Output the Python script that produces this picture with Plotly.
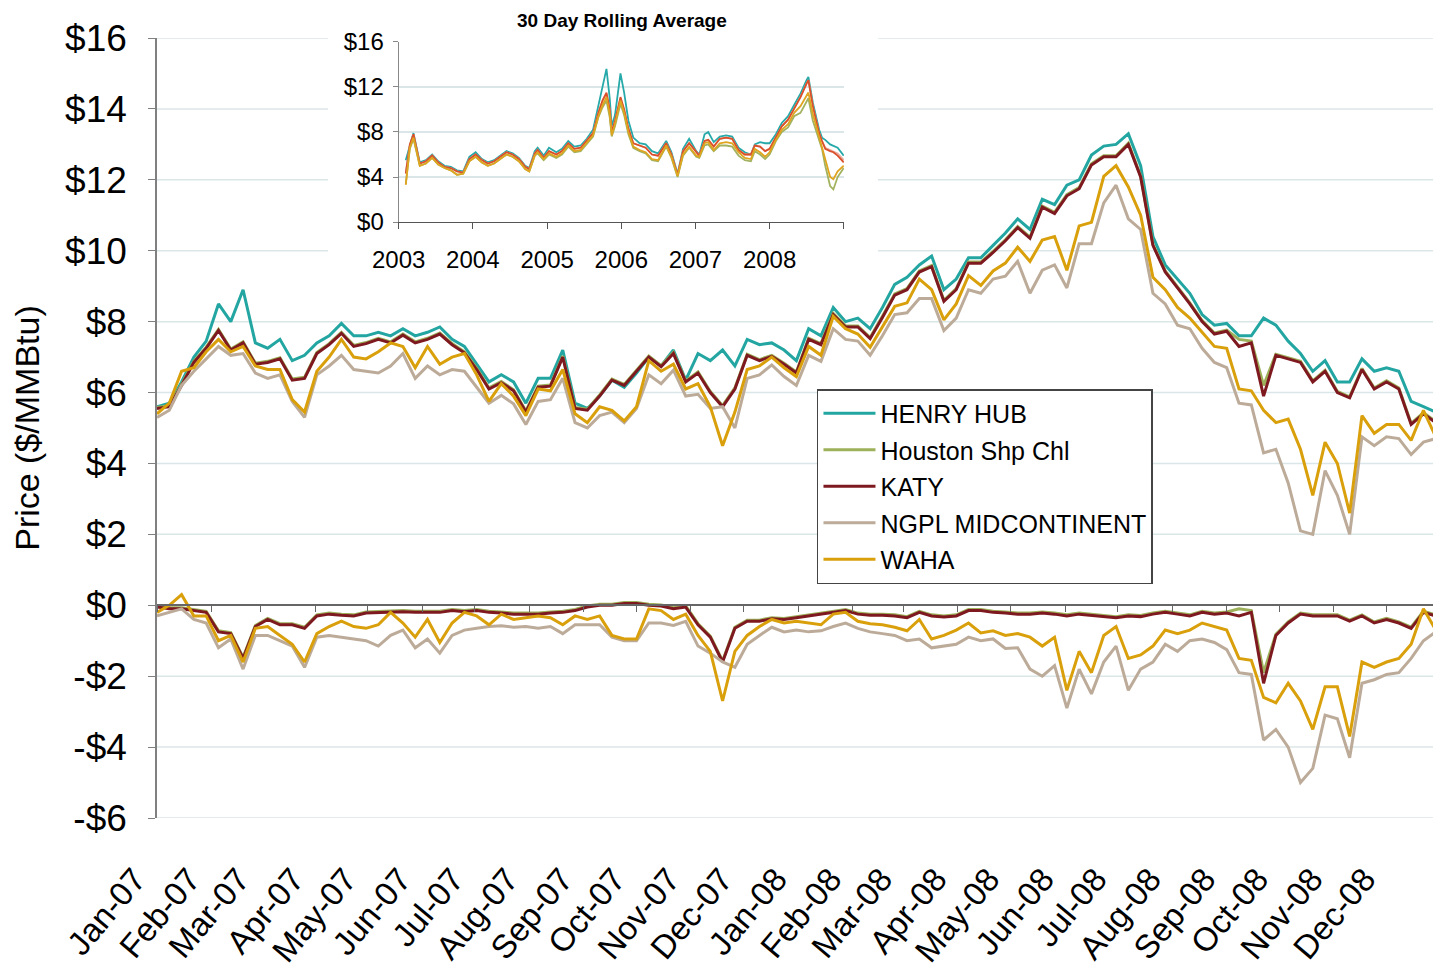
import plotly.graph_objects as go
import pandas as pd

# ---------------- main chart data (weekly readings, Jan 2007 - Dec 2008) ----------------
WEEKS = pd.date_range("2007-01-01", periods=105, freq="7D")

HENRY = [5.6, 5.7, 6.3, 7.0, 7.45, 8.5, 8.0, 8.9, 7.4, 7.25,
         7.5, 6.9, 7.05, 7.4, 7.6, 7.95, 7.6, 7.6, 7.7, 7.6,
         7.8, 7.6, 7.7, 7.85, 7.5, 7.3, 6.8, 6.3, 6.5, 6.3,
         5.7, 6.4, 6.4, 7.2, 5.7, 5.55, 5.9, 6.35, 6.15, 6.55,
         7.0, 6.75, 7.2, 6.35, 7.1, 6.9, 7.2, 6.75, 7.5, 7.35,
         7.4, 7.2, 6.9, 7.8, 7.6, 8.4, 8.0, 8.1, 7.8, 8.4,
         9.05, 9.25, 9.6, 9.85, 8.9, 9.2, 9.8, 9.8, 10.15, 10.5,
         10.9, 10.6, 11.45, 11.3, 11.85, 12.0, 12.7, 12.95, 13.0, 13.3,
         12.4, 10.4, 9.6, 9.2, 8.8, 8.2, 7.9, 7.95, 7.6, 7.6,
         8.1, 7.9, 7.45, 7.1, 6.6, 6.9, 6.3, 6.3, 6.95, 6.6,
         6.7, 6.6, 5.75, 5.6, 5.45]

HOUSTON = [5.58, 5.63, 6.23, 6.88, 7.28, 7.78, 7.23, 7.43, 6.83, 6.88,
           6.98, 6.38, 6.43, 7.13, 7.38, 7.7, 7.33, 7.41, 7.53, 7.43,
           7.65, 7.43, 7.53, 7.68, 7.38, 7.15, 6.68, 6.13, 6.31, 6.08,
           5.48, 6.18, 6.21, 7.03, 5.58, 5.53, 5.93, 6.38, 6.23, 6.63,
           7.03, 6.76, 7.13, 6.33, 6.58, 6.03, 5.63, 6.13, 7.08, 6.93,
           7.05, 6.83, 6.58, 7.53, 7.38, 8.23, 7.88, 7.88, 7.55, 8.15,
           8.78, 8.93, 9.43, 9.58, 8.6, 8.93, 9.68, 9.68, 9.98, 10.31,
           10.68, 10.38, 11.26, 11.08, 11.58, 11.78, 12.45, 12.68, 12.68, 13.03,
           12.11, 10.18, 9.43, 8.98, 8.53, 8.03, 7.68, 7.76, 7.5, 7.45,
           6.2, 7.08, 6.98, 6.88, 6.33, 6.63, 6.03, 5.88, 6.68, 6.13,
           6.33, 6.13, 5.13, 5.43, 5.18]

KATY = [5.55, 5.6, 6.2, 6.85, 7.25, 7.75, 7.2, 7.4, 6.8, 6.85,
        6.95, 6.35, 6.4, 7.1, 7.35, 7.67, 7.3, 7.38, 7.5, 7.4,
        7.62, 7.4, 7.5, 7.65, 7.35, 7.12, 6.65, 6.1, 6.28, 6.05,
        5.45, 6.15, 6.18, 7.0, 5.55, 5.5, 5.9, 6.35, 6.2, 6.6,
        7.0, 6.73, 7.1, 6.3, 6.55, 6.0, 5.6, 6.1, 7.05, 6.9,
        7.02, 6.8, 6.55, 7.5, 7.35, 8.2, 7.85, 7.85, 7.52, 8.12,
        8.75, 8.9, 9.4, 9.55, 8.57, 8.9, 9.65, 9.65, 9.95, 10.28,
        10.65, 10.35, 11.23, 11.05, 11.55, 11.75, 12.42, 12.65, 12.65, 13.0,
        12.08, 10.15, 9.4, 8.95, 8.5, 8.0, 7.65, 7.73, 7.3, 7.4,
        5.9, 7.05, 6.95, 6.85, 6.3, 6.6, 6.0, 5.85, 6.65, 6.1,
        6.3, 6.1, 5.1, 5.4, 5.15]

NGPL = [5.3, 5.5, 6.2, 6.6, 6.95, 7.3, 7.05, 7.1, 6.55, 6.4,
        6.5, 5.75, 5.3, 6.5, 6.75, 7.05, 6.65, 6.6, 6.55, 6.75,
        7.1, 6.4, 6.75, 6.5, 6.65, 6.6, 6.15, 5.7, 5.92, 5.68,
        5.1, 5.75, 5.8, 6.4, 5.15, 5.0, 5.35, 5.45, 5.15, 5.55,
        6.5, 6.25, 6.63, 5.9, 5.95, 5.55, 5.6, 5.0, 6.4, 6.5,
        6.78, 6.45, 6.2, 7.05, 6.88, 7.8, 7.5, 7.45, 7.05, 7.6,
        8.2, 8.25, 8.65, 8.65, 7.75, 8.1, 8.9, 8.8, 9.2, 9.28,
        9.7, 8.8, 9.45, 9.6, 8.95, 10.2, 10.2, 11.35, 11.85, 10.9,
        10.6, 8.8, 8.5, 7.9, 7.8, 7.25, 6.85, 6.7, 5.7, 5.65,
        4.3, 4.4, 3.45, 2.1, 2.0, 3.8, 3.1, 2.0, 4.75, 4.5,
        4.75, 4.7, 4.25, 4.6, 4.7]

WAHA = [5.4, 5.7, 6.6, 6.7, 7.15, 7.5, 7.15, 7.3, 6.75, 6.65,
        6.65, 5.8, 5.45, 6.6, 7.0, 7.5, 7.0, 6.95, 7.15, 7.4,
        7.3, 6.7, 7.3, 6.8, 7.0, 7.1, 6.5, 5.75, 6.25, 5.9,
        5.35, 6.1, 6.05, 6.65, 5.4, 5.15, 5.6, 5.5, 5.2, 5.6,
        6.9, 6.6, 6.8, 6.1, 6.25, 5.6, 4.5, 5.45, 6.65, 6.75,
        7.0, 6.7, 6.45, 7.3, 7.05, 8.15, 7.8, 7.65, 7.28, 7.85,
        8.43, 8.53, 9.2, 8.9, 8.05, 8.5, 9.3, 9.02, 9.43, 9.65,
        10.1, 9.7, 10.3, 10.4, 9.45, 10.7, 10.8, 12.1, 12.4, 11.8,
        11.0, 9.25, 8.9, 8.4, 8.1, 7.7, 7.3, 7.25, 6.1, 6.05,
        5.5, 5.15, 5.25, 4.4, 3.1, 4.6, 4.0, 2.6, 5.35, 4.85,
        5.1, 5.1, 4.65, 5.5, 4.75]

# basis vs. Henry Hub (lower half of the chart)
HOUSTON_BASIS = [-0.02, -0.07, -0.07, -0.12, -0.17, -0.72, -0.77, -1.47, -0.57, -0.37,
                 -0.52, -0.52, -0.62, -0.27, -0.22, -0.25, -0.27, -0.19, -0.17, -0.17,
                 -0.15, -0.17, -0.17, -0.17, -0.12, -0.15, -0.12, -0.17, -0.19, -0.22,
                 -0.22, -0.22, -0.19, -0.17, -0.12, -0.02, 0.03, 0.03, 0.08, 0.08,
                 0.03, 0.01, -0.07, -0.02, -0.52, -0.87, -1.57, -0.62, -0.42, -0.42,
                 -0.35, -0.37, -0.32, -0.27, -0.22, -0.17, -0.12, -0.22, -0.25, -0.25,
                 -0.27, -0.32, -0.17, -0.27, -0.3, -0.27, -0.12, -0.12, -0.17, -0.19,
                 -0.22, -0.22, -0.19, -0.22, -0.27, -0.22, -0.25, -0.27, -0.32, -0.27,
                 -0.29, -0.22, -0.17, -0.22, -0.27, -0.17, -0.22, -0.19, -0.1, -0.15,
                 -1.9, -0.82, -0.47, -0.22, -0.27, -0.27, -0.27, -0.42, -0.27, -0.47,
                 -0.37, -0.47, -0.62, -0.17, -0.27]

KATY_BASIS = [-0.05, -0.1, -0.1, -0.15, -0.2, -0.75, -0.8, -1.5, -0.6, -0.4,
              -0.55, -0.55, -0.65, -0.3, -0.25, -0.28, -0.3, -0.22, -0.2, -0.2,
              -0.18, -0.2, -0.2, -0.2, -0.15, -0.18, -0.15, -0.2, -0.22, -0.25,
              -0.25, -0.25, -0.22, -0.2, -0.15, -0.05, 0.0, 0.0, 0.05, 0.05,
              0.0, -0.02, -0.1, -0.05, -0.55, -0.9, -1.6, -0.65, -0.45, -0.45,
              -0.38, -0.4, -0.35, -0.3, -0.25, -0.2, -0.15, -0.25, -0.28, -0.28,
              -0.3, -0.35, -0.2, -0.3, -0.33, -0.3, -0.15, -0.15, -0.2, -0.22,
              -0.25, -0.25, -0.22, -0.25, -0.3, -0.25, -0.28, -0.3, -0.35, -0.3,
              -0.32, -0.25, -0.2, -0.25, -0.3, -0.2, -0.25, -0.22, -0.3, -0.2,
              -2.2, -0.85, -0.5, -0.25, -0.3, -0.3, -0.3, -0.45, -0.3, -0.5,
              -0.4, -0.5, -0.65, -0.2, -0.3]

NGPL_BASIS = [-0.3, -0.2, -0.1, -0.4, -0.5, -1.2, -0.95, -1.8, -0.85, -0.85,
              -1.0, -1.15, -1.75, -0.9, -0.85, -0.9, -0.95, -1.0, -1.15, -0.85,
              -0.7, -1.2, -0.95, -1.35, -0.85, -0.7, -0.65, -0.6, -0.58, -0.62,
              -0.6, -0.65, -0.6, -0.8, -0.55, -0.55, -0.55, -0.9, -1.0, -1.0,
              -0.5, -0.5, -0.57, -0.45, -1.15, -1.35, -1.6, -1.75, -1.1, -0.85,
              -0.62, -0.75, -0.7, -0.75, -0.72, -0.6, -0.5, -0.65, -0.75, -0.8,
              -0.85, -1.0, -0.95, -1.2, -1.15, -1.1, -0.9, -1.0, -0.95, -1.22,
              -1.2, -1.8, -2.0, -1.7, -2.9, -1.8, -2.5, -1.6, -1.15, -2.4,
              -1.8, -1.6, -1.1, -1.3, -1.0, -0.95, -1.05, -1.25, -1.9, -1.95,
              -3.8, -3.5, -4.0, -5.0, -4.6, -3.1, -3.2, -4.3, -2.2, -2.1,
              -1.95, -1.9, -1.5, -1.0, -0.75]

WAHA_BASIS = [-0.2, 0.0, 0.3, -0.3, -0.3, -1.0, -0.85, -1.6, -0.65, -0.6,
              -0.85, -1.1, -1.6, -0.8, -0.6, -0.45, -0.6, -0.65, -0.55, -0.2,
              -0.5, -0.9, -0.4, -1.05, -0.5, -0.2, -0.3, -0.55, -0.25, -0.4,
              -0.35, -0.3, -0.35, -0.55, -0.3, -0.4, -0.3, -0.85, -0.95, -0.95,
              -0.1, -0.15, -0.4, -0.25, -0.85, -1.3, -2.7, -1.3, -0.85, -0.6,
              -0.4, -0.5, -0.45, -0.5, -0.55, -0.25, -0.2, -0.45, -0.52, -0.55,
              -0.62, -0.72, -0.4, -0.95, -0.85, -0.7, -0.5, -0.78, -0.72, -0.85,
              -0.8, -0.9, -1.15, -0.9, -2.4, -1.3, -1.9, -0.85, -0.6, -1.5,
              -1.4, -1.15, -0.7, -0.8, -0.7, -0.5, -0.6, -0.7, -1.5, -1.55,
              -2.6, -2.75, -2.2, -2.7, -3.5, -2.3, -2.3, -3.7, -1.6, -1.75,
              -1.6, -1.5, -1.1, -0.1, -0.7]

MONTH_STARTS = ["2007-01-01", "2007-02-01", "2007-03-01", "2007-04-01", "2007-05-01", "2007-06-01",
                "2007-07-01", "2007-08-01", "2007-09-01", "2007-10-01", "2007-11-01", "2007-12-01",
                "2008-01-01", "2008-02-01", "2008-03-01", "2008-04-01", "2008-05-01", "2008-06-01",
                "2008-07-01", "2008-08-01", "2008-09-01", "2008-10-01", "2008-11-01", "2008-12-01"]
MONTH_LABELS = ["Jan-07", "Feb-07", "Mar-07", "Apr-07", "May-07", "Jun-07",
                "Jul-07", "Aug-07", "Sep-07", "Oct-07", "Nov-07", "Dec-07",
                "Jan-08", "Feb-08", "Mar-08", "Apr-08", "May-08", "Jun-08",
                "Jul-08", "Aug-08", "Sep-08", "Oct-08", "Nov-08", "Dec-08"]
Y_TICKS = [-6, -4, -2, 0, 2, 4, 6, 8, 10, 12, 14, 16]
Y_LABELS = ["-$6", "-$4", "-$2", "$0", "$2", "$4", "$6", "$8", "$10", "$12", "$14", "$16"]

# ---------------- inset data (30 day rolling average, 2003-2008) ----------------
INSET_DATES = ["2003-02-05", "2003-02-25", "2003-03-15", "2003-04-15", "2003-05-15", "2003-06-15",
               "2003-07-15", "2003-08-15", "2003-09-15", "2003-10-15", "2003-11-15", "2003-12-15",
               "2004-01-15", "2004-02-15", "2004-03-15", "2004-04-15", "2004-05-15", "2004-06-15",
               "2004-07-15", "2004-08-15", "2004-09-15", "2004-10-05", "2004-11-01", "2004-11-15",
               "2004-12-15",
               "2005-01-10", "2005-02-15", "2005-03-15", "2005-04-15", "2005-05-15", "2005-06-15",
               "2005-07-15", "2005-08-15", "2005-09-10", "2005-10-01", "2005-10-20", "2005-11-05",
               "2005-11-15", "2005-12-01", "2005-12-28",
               "2006-01-15", "2006-02-05", "2006-03-01", "2006-04-01", "2006-05-01", "2006-06-01",
               "2006-07-01", "2006-08-10", "2006-09-05", "2006-10-05", "2006-11-01", "2006-12-01",
               "2007-01-05", "2007-01-20", "2007-02-15", "2007-03-05", "2007-04-01", "2007-05-01",
               "2007-06-01", "2007-07-01", "2007-08-01", "2007-09-01", "2007-10-01", "2007-10-20",
               "2007-11-15", "2007-12-10",
               "2008-01-01", "2008-02-01", "2008-03-01", "2008-04-01", "2008-05-01", "2008-06-01",
               "2008-07-01", "2008-07-10", "2008-08-01", "2008-09-01", "2008-09-15", "2008-10-01",
               "2008-10-25", "2008-11-10", "2008-12-01", "2008-12-31"]

INSET_HENRY = [5.5, 6.9, 7.9, 5.3, 5.5, 6.0, 5.4, 5.0, 4.9, 4.6, 4.5, 5.8,
               6.2, 5.6, 5.3, 5.5, 5.9, 6.3, 6.1, 5.7, 5.0, 4.8, 6.3, 6.6, 5.9,
               6.6, 6.2, 6.5, 7.2, 6.7, 6.8, 7.4, 8.2, 10.3, 12.3, 13.6, 11.0, 8.5, 9.5, 13.2,
               11.5, 9.0, 7.5, 7.0, 6.9, 6.3, 6.1, 7.2, 6.2, 4.3, 6.5, 7.4,
               6.3, 6.0, 7.8, 8.0, 7.1, 7.6, 7.7, 7.6, 6.6, 6.2, 6.0, 6.9, 7.1, 7.0,
               7.0, 7.8, 8.8, 9.4, 10.4, 11.4, 12.6, 12.9, 10.6, 8.2, 7.5, 7.3, 6.9, 6.8, 6.6, 5.9]
INSET_HOUSTON = [4.4, 6.8, 7.8, 5.2, 5.4, 5.9, 5.3, 4.9, 4.8, 4.5, 4.4, 5.6,
                 6.0, 5.5, 5.2, 5.4, 5.8, 6.2, 6.0, 5.6, 4.9, 4.7, 6.1, 6.4, 5.7,
                 6.3, 6.0, 6.3, 7.0, 6.5, 6.6, 7.2, 7.9, 9.7, 10.8, 11.4, 10.0, 8.0, 9.0, 11.0,
                 10.0, 8.3, 7.0, 6.8, 6.6, 6.0, 5.9, 7.0, 6.0, 4.2, 6.3, 7.0,
                 6.2, 5.9, 7.2, 7.3, 6.7, 7.4, 7.5, 7.4, 6.4, 6.0, 6.0, 6.8, 6.7, 6.3,
                 6.5, 7.5, 8.5, 9.1, 10.1, 11.1, 12.3, 12.6, 10.3, 7.9, 7.2, 6.6, 6.4, 6.3, 6.1, 5.5]
INSET_KATY = [4.3, 6.9, 7.8, 5.2, 5.4, 5.9, 5.3, 4.9, 4.8, 4.5, 4.4, 5.6,
              6.0, 5.5, 5.2, 5.4, 5.8, 6.2, 6.0, 5.6, 4.9, 4.7, 6.1, 6.4, 5.7,
              6.3, 6.0, 6.3, 7.0, 6.5, 6.6, 7.2, 7.9, 9.7, 10.8, 11.5, 10.0, 8.0, 9.0, 11.1,
              10.0, 8.3, 7.0, 6.8, 6.6, 6.0, 5.9, 7.0, 6.0, 4.2, 6.3, 7.0,
              6.2, 5.9, 7.2, 7.3, 6.7, 7.4, 7.5, 7.4, 6.4, 6.0, 6.0, 6.8, 6.7, 6.3,
              6.5, 7.5, 8.5, 9.1, 10.1, 11.1, 12.3, 12.6, 10.3, 7.9, 7.2, 6.5, 6.3, 6.2, 5.9, 5.3]
INSET_NGPL = [3.4, 6.5, 7.4, 5.0, 5.2, 5.7, 5.1, 4.8, 4.6, 4.2, 4.3, 5.4,
              5.8, 5.3, 5.0, 5.2, 5.6, 6.0, 5.8, 5.4, 4.7, 4.5, 5.9, 6.1, 5.5,
              6.0, 5.7, 6.0, 6.7, 6.2, 6.3, 6.9, 7.6, 9.3, 10.2, 10.8, 9.3, 7.6, 8.5, 10.5,
              9.5, 7.8, 6.6, 6.3, 6.1, 5.5, 5.4, 6.7, 5.7, 4.0, 5.9, 6.6,
              5.8, 5.7, 6.8, 6.9, 6.3, 6.8, 6.8, 6.7, 5.9, 5.5, 5.4, 6.3, 6.0, 5.6,
              6.0, 7.2, 8.0, 8.4, 9.4, 9.7, 10.6, 11.0, 9.0, 7.2, 6.5, 5.0, 3.2, 2.9, 4.0, 4.8]
INSET_WAHA = [3.3, 6.6, 7.5, 5.0, 5.2, 5.7, 5.1, 4.8, 4.6, 4.2, 4.3, 5.4,
              5.8, 5.3, 5.0, 5.2, 5.6, 6.0, 5.8, 5.4, 4.7, 4.5, 5.9, 6.2, 5.6,
              6.1, 5.8, 6.1, 6.8, 6.3, 6.4, 7.0, 7.7, 9.4, 10.4, 11.1, 9.6, 7.7, 8.7, 10.8,
              9.7, 8.0, 6.7, 6.4, 6.2, 5.6, 5.5, 6.8, 5.8, 4.1, 6.0, 6.7,
              5.9, 5.8, 7.0, 7.1, 6.4, 7.0, 7.1, 7.0, 6.2, 5.7, 5.6, 6.5, 6.2, 5.8,
              6.2, 7.3, 8.2, 8.7, 9.7, 10.3, 11.2, 11.5, 9.6, 7.5, 6.8, 5.6, 4.0, 3.8, 4.5, 5.0]
INSET_YEAR_TICKS = ["2003-01-01", "2004-01-01", "2005-01-01", "2006-01-01",
                    "2007-01-01", "2008-01-01", "2009-01-01"]
INSET_YEAR_LABELS = ["2003", "2004", "2005", "2006", "2007", "2008", ""]
INSET_Y_TICKS = [0, 4, 8, 12, 16]
INSET_Y_LABELS = ["$0", "$4", "$8", "$12", "$16"]

SERIES_NAMES = ["HENRY HUB", "Houston Shp Chl", "KATY", "NGPL MIDCONTINENT", "WAHA"]
COLORS = ["#23A6A2", "#9DB05A", "#7E1920", "#BDAB99", "#D9A00C"]
INSET_COLORS = ["#26A9A8", "#E8ABA0", "#D9502A", "#A2B25E", "#DFA51F"]

FONT = "Liberation Sans, Arial, sans-serif"

fig = go.Figure()

prices = [HENRY, HOUSTON, KATY, NGPL, WAHA]
for name, vals, col in zip(SERIES_NAMES, prices, COLORS):
    fig.add_trace(go.Scatter(x=WEEKS, y=vals, name=name, mode="lines", legendgroup=name,
                             line=dict(color=col, width=3), xaxis="x", yaxis="y"))

basis = [HOUSTON_BASIS, KATY_BASIS, NGPL_BASIS, WAHA_BASIS]
for name, vals, col in zip(SERIES_NAMES[1:], basis, COLORS[1:]):
    fig.add_trace(go.Scatter(x=WEEKS, y=vals, name=name, mode="lines", legendgroup=name,
                             showlegend=False, line=dict(color=col, width=3),
                             xaxis="x", yaxis="y"))

# helper (invisible) trace so the zero-crossing category axis is drawn
fig.add_trace(go.Scatter(x=[WEEKS[0]], y=[0], mode="markers", marker=dict(opacity=0),
                         showlegend=False, hoverinfo="skip", xaxis="x3", yaxis="y"))

inset = [INSET_HENRY, INSET_HOUSTON, INSET_KATY, INSET_NGPL, INSET_WAHA]
for name, vals, col in zip(SERIES_NAMES, inset, INSET_COLORS):
    fig.add_trace(go.Scatter(x=INSET_DATES, y=vals, name=name, mode="lines",
                             showlegend=False, line=dict(color=col, width=1.8),
                             xaxis="x2", yaxis="y2"))

# main gridlines (interrupted where the inset box sits)
GRID = "#dbe6e8"
shapes = []
for v in Y_TICKS:
    if v == 0:
        continue
    if v >= 10:
        segs = [(0, 0.1332), (0.5615, 1)]
    else:
        segs = [(0, 1)]
    for a, b in segs:
        shapes.append(dict(type="line", xref="paper", yref="y", x0=a, x1=b, y0=v, y1=v,
                           line=dict(color=GRID, width=1.5), layer="below"))

# the page body adds an 8px offset; size/margins compensate for it
fig.update_layout(
    width=1433, height=965,
    margin=dict(l=149, r=0, t=30, b=155),
    paper_bgcolor="white", plot_bgcolor="white",
    font=dict(family=FONT, color="black"),
    shapes=shapes,
    showlegend=True,
    legend=dict(x=0.514, y=0.55, xanchor="left", yanchor="top",
                bgcolor="white", bordercolor="#444444", borderwidth=1.5,
                font=dict(size=25, family=FONT), tracegroupgap=1, itemwidth=52),
    xaxis=dict(type="date", range=["2007-01-01", "2009-01-01"], domain=[0, 1], anchor="y",
               tickmode="array", tickvals=MONTH_STARTS, ticktext=MONTH_LABELS,
               tickangle=-50, tickfont=dict(size=33), showgrid=False, showline=False,
               zeroline=False, ticks="", ticklabelstandoff=34, ticklabelshift=-22),
    xaxis3=dict(type="date", range=["2007-01-01", "2009-01-01"], overlaying="x",
                anchor="free", position=6 / 22, tickmode="array", tickvals=MONTH_STARTS,
                showticklabels=False, ticks="outside", ticklen=6, tickcolor="#666666",
                tickwidth=1.2, showline=True, linecolor="#666666", linewidth=1.5,
                showgrid=False, zeroline=False),
    yaxis=dict(range=[-6, 16], domain=[0, 1], anchor="x", tickmode="array",
               tickvals=Y_TICKS, ticktext=Y_LABELS, tickfont=dict(size=37),
               ticks="outside", ticklen=7, tickcolor="#808080", showline=True,
               linecolor="#808080", linewidth=1.5, showgrid=False, zeroline=False,
               ticklabelstandoff=14,
               title=dict(text="Price ($/MMBtu)", font=dict(size=34), standoff=16)),
    xaxis2=dict(type="date", range=["2003-01-01", "2009-01-01"], domain=[0.1882, 0.535],
                anchor="y2", tickmode="array", tickvals=INSET_YEAR_TICKS,
                ticktext=INSET_YEAR_LABELS, tickfont=dict(size=24), ticks="outside",
                ticklen=6, tickcolor="#555555", showline=True, linecolor="#555555",
                linewidth=1.2, showgrid=False, zeroline=False, ticklabelstandoff=10),
    yaxis2=dict(range=[0, 16], domain=[0.764, 0.995], anchor="x2", tickmode="array",
                tickvals=INSET_Y_TICKS, ticktext=INSET_Y_LABELS, tickfont=dict(size=24),
                ticks="outside", ticklen=5, tickcolor="#888888", showline=True,
                linecolor="#888888", linewidth=1.2, showgrid=True, gridcolor=GRID,
                gridwidth=1.5, zeroline=False, ticklabelstandoff=4),
    annotations=[dict(text="<b>30 Day Rolling Average</b>", xref="paper", yref="paper",
                      x=0.362, y=1.023, xanchor="center", yanchor="middle",
                      showarrow=False, font=dict(size=19, family=FONT))],
)

fig.write_html("out.html")
